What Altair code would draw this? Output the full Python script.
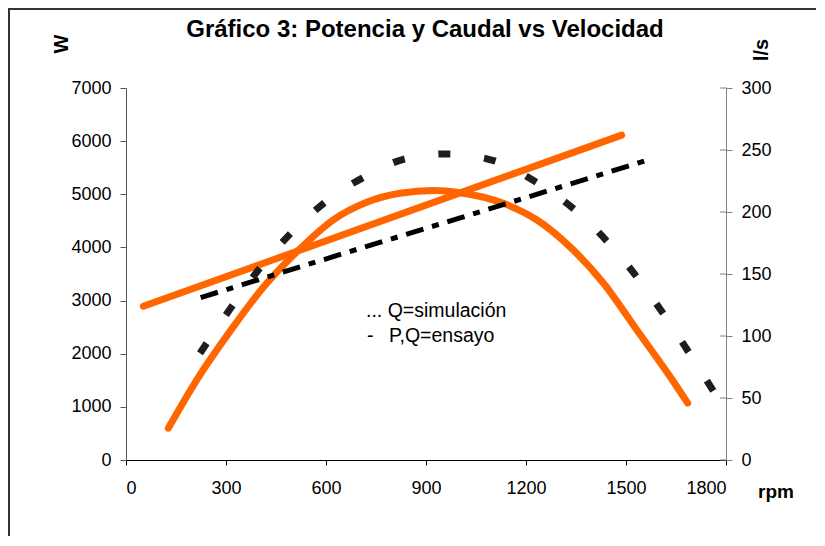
import altair as alt
import pandas as pd

# ---- data ----
x_ticks = [0, 300, 600, 900, 1200, 1500, 1800]
w_ticks = [0, 1000, 2000, 3000, 4000, 5000, 6000, 7000]
q_ticks = [0, 50, 100, 150, 200, 250, 300]

# Potencia simulación (orange curve, W)
rpm_p_sim = [127, 212, 312, 412, 522, 622, 722, 822, 922, 1002, 1132, 1232, 1332, 1432, 1532, 1632, 1685]
w_p_sim = [600, 1505, 2420, 3250, 3975, 4520, 4850, 5020, 5070, 5030, 4830, 4520, 4010, 3330, 2450, 1570, 1070]

# Potencia ensayo (black dashed curve, W)
rpm_p_test = [222, 317, 397, 484, 587, 707, 837, 962, 1097, 1227, 1347, 1444, 1530, 1610, 1690, 1762]
w_p_test = [2010, 2885, 3575, 4200, 4800, 5300, 5665, 5760, 5645, 5240, 4705, 4110, 3465, 2770, 2010, 1300]

# Caudal simulación (orange straight line, l/s)
rpm_q_sim = [52, 1487]
q_q_sim = [124, 262]

# Caudal ensayo (black dash-dot line, l/s)
rpm_q_test = [224, 676, 1000, 1578]
q_q_test = [131, 168.5, 195, 243]

title_text = "Gráfico 3: Potencia y Caudal vs Velocidad"
legend_1 = "... Q=simulación"
legend_2a = "-"
legend_2b = "P,Q=ensayo"

FONT = "Liberation Sans"
ORANGE = "#FF6600"

df_p_sim = pd.DataFrame({"rpm": rpm_p_sim, "W": w_p_sim})
df_p_test = pd.DataFrame({"rpm": rpm_p_test, "W": w_p_test})
df_q_sim = pd.DataFrame({"rpm": rpm_q_sim, "Q": q_q_sim})
df_q_test = pd.DataFrame({"rpm": rpm_q_test, "Q": q_q_test})
df_qt = pd.DataFrame({"Q": q_ticks})

x_scale = alt.Scale(domain=[0, 1800], nice=False, zero=False)
x_axis = alt.Axis(values=x_ticks, title=None, grid=False, tickSize=5, labelPadding=14,
                  domainColor="black", tickColor="black", labelColor="black",
                  labelFont=FONT, labelFontSize=18, format="d", labelOverlap=False)
x_enc = alt.X("rpm:Q", scale=x_scale, axis=x_axis)

yl_scale = alt.Scale(domain=[0, 7000], nice=False)
yr_scale = alt.Scale(domain=[0, 300], nice=False)

yl_axis = alt.Axis(values=w_ticks, title=None, grid=False, orient="left", tickSize=6, labelPadding=9,
                   domainColor="#555555", tickColor="#555555", labelColor="black",
                   labelFont=FONT, labelFontSize=18, format="d")
yr_axis = alt.Axis(values=q_ticks, title=None, grid=False, orient="right", tickSize=6, labelPadding=9,
                   domainColor="#808080", tickColor="#808080", labelColor="black",
                   labelFont=FONT, labelFontSize=18, format="d")

orange_curve = alt.Chart(df_p_sim).mark_line(
    color=ORANGE, strokeWidth=7, strokeCap="round", interpolate="monotone"
).encode(x=x_enc, y=alt.Y("W:Q", scale=yl_scale, axis=yl_axis))

orange_line = alt.Chart(df_q_sim).mark_line(
    color=ORANGE, strokeWidth=7, strokeCap="round"
).encode(x=x_enc, y=alt.Y("Q:Q", scale=yr_scale, axis=yr_axis))

black_curve = alt.Chart(df_p_test).mark_line(
    color="#1e1e1e", strokeWidth=7, strokeDash=[12, 34], interpolate="monotone"
).encode(x=x_enc, y=alt.Y("W:Q", scale=yl_scale, axis=None))

dashdot = alt.Chart(df_q_test).mark_line(
    color="black", strokeWidth=5, strokeDash=[18, 9, 7, 9]
).encode(x=x_enc, y=alt.Y("Q:Q", scale=yr_scale, axis=None))

rticks = alt.Chart(df_qt).mark_rule(color="#808080", strokeWidth=1).encode(
    y=alt.Y("Q:Q", scale=yr_scale, axis=None), x=alt.value(594), x2=alt.value(601)
)

one = pd.DataFrame({"k": [0]})

def label(txt, x, y, size, bold=False, angle=0, align="left", baseline="alphabetic"):
    return alt.Chart(one).mark_text(
        text=txt, font=FONT, fontSize=size, fontWeight="bold" if bold else "normal",
        angle=angle, align=align, baseline=baseline, color="black"
    ).encode(x=alt.value(x), y=alt.value(y))

title = label(title_text, 299, -51, 24, bold=True, align="center")
w_lab = label("W", -64, -44, 20, bold=True, angle=270, align="center", baseline="middle")
ls_lab = label("l/s", 636, -38, 20, bold=True, angle=270, align="center", baseline="middle")
rpm_lab = label("rpm", 632, 410, 19, bold=True)
leg1 = label(legend_1, 240, 229, 19.5)
leg2a = label(legend_2a, 241, 254, 19.5)
leg2b = label(legend_2b, 263, 254, 19.5)

frame = alt.Chart(one).mark_rect(filled=False, stroke="#333333", strokeWidth=2).encode(
    x=alt.value(-117), y=alt.value(-79), x2=alt.value(760), y2=alt.value(520)
)

chart = alt.layer(
    orange_curve, orange_line, black_curve, dashdot, rticks,
    frame, title, w_lab, ls_lab, rpm_lab, leg1, leg2a, leg2b
).resolve_scale(y="independent").properties(
    width=600, height=372,
    autosize=alt.AutoSizeParams(type="none"),
    padding={"left": 118, "top": 80, "right": 90, "bottom": 76},
).configure_view(stroke=None)

chart.save("out.html", embed_options={"renderer": "svg", "actions": False})
